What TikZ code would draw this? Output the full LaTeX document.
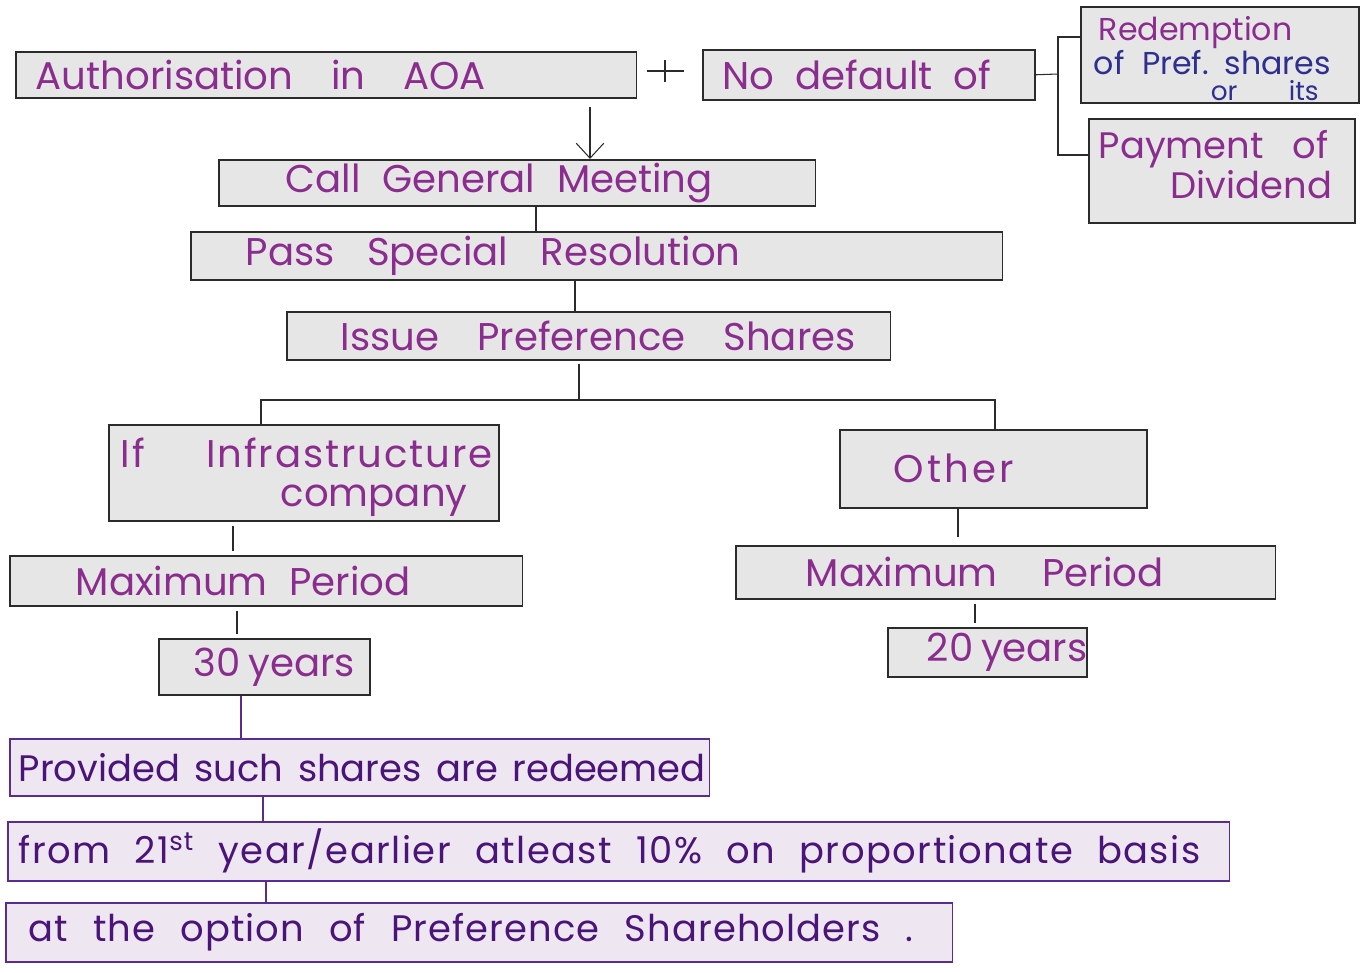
\documentclass[tikz,border=0pt]{standalone}
\usepackage{fontspec}
\setmainfont{Poppins}
\usepackage{tikz}
\usetikzlibrary{positioning, arrows.meta}
\definecolor{boxfill}{HTML}{E6E6E6}
\definecolor{boxline}{HTML}{2B2B2B}
\definecolor{inkp}{HTML}{8B2D8E}
\definecolor{inkb}{HTML}{2E2F8F}
\definecolor{lavfill}{HTML}{EEE7F1}
\definecolor{lavline}{HTML}{5B2C8F}
\definecolor{inkd}{HTML}{4A1478}
\tikzstyle{block}=[draw=boxline,fill=boxfill,rectangle,line width=0.9pt,anchor=north west,align=left,inner xsep=0pt,inner ysep=1pt,text=inkp]
\tikzstyle{lblock}=[block,draw=lavline,fill=lavfill,text=inkd,font=\fontsize{21}{25}\selectfont]
\tikzstyle{wire}=[draw=boxline,line width=0.6pt]
\tikzstyle{lwire}=[draw=lavline,line width=0.8pt]
\tikzstyle{gap}=[shorten <=0.08cm,shorten >=0.08cm]
\tikzstyle{every node}=[font=\fontsize{22}{26}\selectfont]
\newcommand{\hwt}[3]{\hspace*{#1}\makebox[#2][s]{\spaceskip=0.3em plus 1fil minus 0.1em\relax #3}}

\begin{document}
\begin{tikzpicture}[x=0.02cm,y=-0.02cm,>={Straight Barb[length=0.3cm,width=0.55cm]}]
\useasboundingbox (0,0) rectangle (1366,973);
\node[block,text width=12.42cm,minimum height=0.92cm] (aoa) at (15,51) {\hwt{0.4cm}{9cm}{Authorisation in AOA}};
\node[block,text width=6.64cm,minimum height=1cm] (nodef) at (702,49) {\hwt{0.4cm}{5.36cm}{No default of}};
\node[block,text width=5.56cm,minimum height=1.9cm,font=\fontsize{18}{19.8}\selectfont] (redem) at (1080,6) {\rule{0pt}{18pt}\hwt{0.36cm}{4.34cm}{Redemption}\\ {\color{inkb}\hwt{0.26cm}{4.74cm}{of Pref. shares}}\\[-5pt] {\color{inkb}\fontsize{15}{15}\selectfont\hwt{2.6cm}{2.16cm}{or its}}};
\node[block,text width=5.32cm,minimum height=2.08cm,font=\fontsize{21}{23}\selectfont] (pay) at (1088,118) {\hwt{0.2cm}{4.6cm}{Payment of}\\ \hwt{1.64cm}{3.1cm}{Dividend}\rule[-7pt]{0pt}{7pt}};
\node[block,text width=11.94cm,minimum height=0.92cm] (callgm) at (218,159) {\hwt{1.34cm}{8.54cm}{Call General Meeting}};
\node[block,text width=16.24cm,minimum height=0.96cm] (passsr) at (190,231) {\hwt{1.1cm}{9.9cm}{Pass Special Resolution}};
\node[block,text width=12.08cm,minimum height=0.96cm] (issue) at (286,311) {\hwt{1.08cm}{10.3cm}{Issue Preference Shares}};
\node[block,text width=7.8cm,minimum height=1.92cm] (infra) at (108,424) {\rule{0pt}{22pt}{\addfontfeature{LetterSpace=5}\hwt{0.24cm}{7.44cm}{If Infrastructure}}\\[-4pt] \hwt{3.44cm}{3.6cm}{company}};
\node[block,text width=6.14cm,minimum height=1.56cm] (other) at (839,429) {\addfontfeature{LetterSpace=8}\hwt{1.08cm}{2.64cm}{Other}};
\node[block,text width=10.26cm,minimum height=1cm] (maxl) at (9,555) {\hwt{1.32cm}{6.7cm}{Maximum Period}};
\node[block,text width=10.8cm,minimum height=1.06cm] (maxr) at (735,545) {\hwt{1.4cm}{7.16cm}{Maximum Period}};
\node[block,text width=4.22cm,minimum height=1.12cm] (y30) at (158,638) {\hwt{0.7cm}{3.1cm}{30 years}};
\node[block,text width=3.98cm,minimum height=0.98cm] (y20) at (887,627) {\hwt{0.78cm}{3.08cm}{20 years}};
\node[lblock,text width=14cm,minimum height=1.14cm] (prov) at (9,738) {\hwt{0.18cm}{13.74cm}{Provided such shares are redeemed}};
\node[lblock,text width=24.44cm,minimum height=1.18cm] (yr21) at (7,821) {\addfontfeature{LetterSpace=4}\hwt{0.22cm}{23.64cm}{from 21\textsuperscript{st} year/earlier atleast 10\% on proportionate basis}};
\node[lblock,text width=18.94cm,minimum height=1.18cm] (atopt) at (5,902) {\addfontfeature{LetterSpace=3}\hwt{0.46cm}{17.7cm}{at the option of Preference Shareholders\hspace{0.5cm}.}};
\draw[wire] (647,71) -- (684,71) (665,60) -- (665,82);
\draw[->,wire,shorten <=0.16cm] (590,0 |- aoa.south) -- (590,0 |- callgm.north);
\coordinate (br) at (1058,74);
\draw[wire] (nodef.east) -- (br);
\draw[wire] (redem.west |- 0,37) -| (br) |- (pay.west |- 0,155);
\draw[wire] (536,0 |- callgm.south) -- (536,0 |- passsr.north);
\draw[wire] (575,0 |- passsr.south) -- (575,0 |- issue.north);
\coordinate (bus) at (579,400);
\draw[wire,shorten <=0.06cm] (bus |- issue.south) -- (bus);
\draw[wire] (261,0 |- infra.north) |- (bus) -| (995,0 |- other.north);
\draw[wire,gap] (233,0 |- infra.south) -- (233,0 |- maxl.north);
\draw[wire,gap] (237,0 |- maxl.south) -- (237,0 |- y30.north);
\draw[wire,shorten >=0.16cm] (958,0 |- other.south) -- (958,0 |- maxr.north);
\draw[wire,gap] (975,0 |- maxr.south) -- (975,0 |- y20.north);
\draw[lwire] (241,0 |- y30.south) -- (241,0 |- prov.north);
\draw[lwire] (263,0 |- prov.south) -- (263,0 |- yr21.north);
\draw[lwire] (266,0 |- yr21.south) -- (266,0 |- atopt.north);
\end{tikzpicture}
\end{document}
